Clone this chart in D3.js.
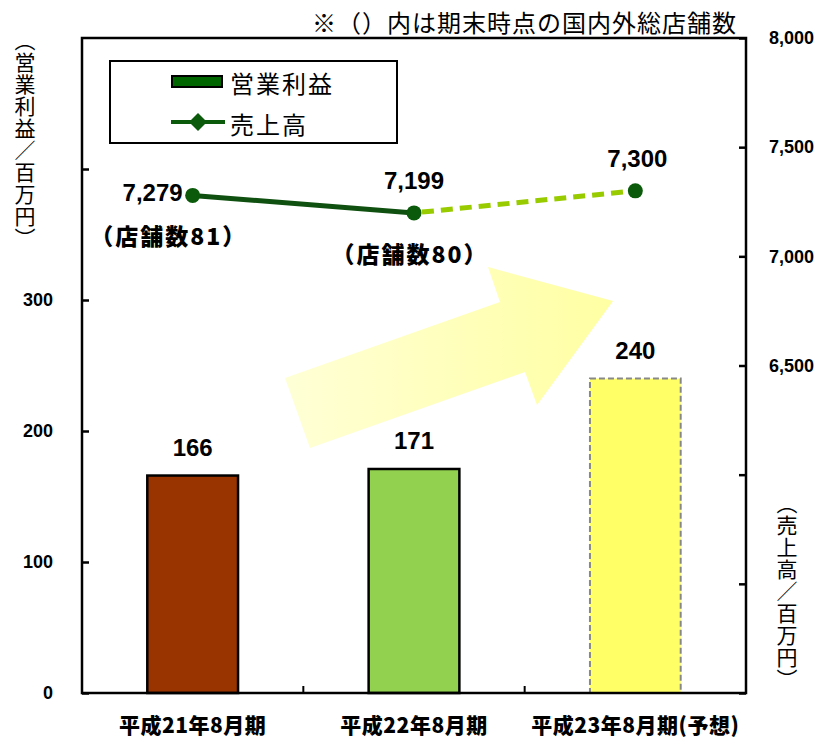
<!DOCTYPE html>
<html>
<head>
<meta charset="utf-8">
<script src="https://cdn.jsdelivr.net/npm/d3@7"></script>
<style>
  body { margin: 0; background: #fff; }
  svg { display: block; }
  .num { font-family: "Liberation Sans", Arial, sans-serif; font-weight: bold; }
  .jp { font-family: "Noto Sans CJK JP", sans-serif; }
</style>
</head>
<body>
<div id="chart"></div>
<script>
// data
var categories = ["平成21年8月期", "平成22年8月期", "平成23年8月期(予想)"];
var profit = [166, 171, 240];          // 営業利益 (left axis)
var sales = [7279, 7199, 7300];        // 売上高 (right axis)
var storeLabels = ["（店舗数81）", "（店舗数80）", null];
var leftTicks = [0, 100, 200, 300, 400];
var leftLabelTicks = [0, 100, 200, 300];
var rightTicks = [5000, 5500, 6000, 6500, 7000, 7500, 8000];
var rightLabelTicks = [6500, 7000, 7500, 8000];

var svgWidth = 820;
var svgHeight = 740;
var margin = { top: 38, right: 74, bottom: 47, left: 82 };
var width = svgWidth - margin.left - margin.right;
var height = svgHeight - margin.top - margin.bottom;

var svg = d3.select("#chart").append("svg")
  .attr("width", svgWidth)
  .attr("height", svgHeight);

var defs = svg.append("defs");
var grad = defs.append("linearGradient").attr("id", "arrowGrad")
  .attr("x1", "0%").attr("x2", "100%").attr("y1", "0%").attr("y2", "0%");
grad.append("stop").attr("offset", "0%").attr("stop-color", "#ffffd2");
grad.append("stop").attr("offset", "100%").attr("stop-color", "#ffff99");

var chartGroup = svg.append("g")
  .attr("transform", `translate(${margin.left}, ${margin.top})`);

// scales
var x = d3.scaleBand().domain(categories).range([0, width]).paddingInner(0).paddingOuter(0);
var barW = x.bandwidth() * 0.41;
var yLeft = d3.scaleLinear().domain([0, 500]).range([height, 0]);
var yRight = d3.scaleLinear().domain([5000, 8000]).range([height, 0]);

// big decorative arrow (plot-relative)
var arrowPts = [[203, 340], [418, 264], [406, 229], [531, 263], [455, 367], [443, 334], [228, 410]];
chartGroup.append("path")
  .attr("d", "M" + arrowPts.map(function (p) { return p.join(","); }).join("L") + "Z")
  .attr("fill", "url(#arrowGrad)")
  .attr("opacity", 0.9);

// bars
var barFill = ["#993300", "#92d050", "#ffff66"];
chartGroup.selectAll("rect.bar")
  .data(profit)
  .enter()
  .append("rect")
  .attr("class", "bar")
  .attr("x", function (d, i) { return x(categories[i]) + x.bandwidth() / 2 - barW / 2; })
  .attr("y", function (d) { return yLeft(d); })
  .attr("width", barW)
  .attr("height", function (d) { return height - yLeft(d); })
  .attr("fill", function (d, i) { return barFill[i]; })
  .attr("stroke", function (d, i) { return i === 2 ? "#888" : "#000"; })
  .attr("stroke-width", function (d, i) { return i === 2 ? 2 : 2.5; })
  .attr("stroke-dasharray", function (d, i) { return i === 2 ? "6,3" : null; });

// bar value labels
chartGroup.selectAll("text.barlab")
  .data(profit)
  .enter()
  .append("text")
  .attr("class", "num")
  .attr("x", function (d, i) { return x(categories[i]) + x.bandwidth() / 2; })
  .attr("y", function (d) { return yLeft(d) - 20; })
  .attr("text-anchor", "middle")
  .attr("font-size", 24)
  .text(function (d) { return d; });

// frame
chartGroup.append("rect")
  .attr("x", 0).attr("y", 0)
  .attr("width", width).attr("height", height)
  .attr("fill", "none").attr("stroke", "#000").attr("stroke-width", 2.5);

// left axis
var leftAxis = d3.axisLeft(yLeft).tickValues(leftTicks).tickSizeInner(-7).tickSizeOuter(0)
  .tickFormat(function (d) { return leftLabelTicks.indexOf(d) >= 0 ? d : ""; })
  .tickPadding(29);
var gl = chartGroup.append("g").call(leftAxis);
gl.select(".domain").remove();
gl.selectAll("line").attr("stroke", "#000").attr("stroke-width", 2.5);
gl.selectAll("text").attr("class", "num").attr("font-size", 18).attr("fill", "#000");

// right axis
var rightAxis = d3.axisRight(yRight).tickValues(rightTicks).tickSizeInner(-7).tickSizeOuter(0)
  .tickFormat(function (d) { return rightLabelTicks.indexOf(d) >= 0 ? d3.format(",")(d) : ""; })
  .tickPadding(23);
var gr = chartGroup.append("g").attr("transform", `translate(${width},0)`).call(rightAxis);
gr.select(".domain").remove();
gr.selectAll("line").attr("stroke", "#000").attr("stroke-width", 2.5);
gr.selectAll("text").attr("class", "num").attr("font-size", 18).attr("fill", "#000");

// category axis
var bottomAxis = d3.axisBottom(x).tickSize(0).tickPadding(25);
var gb = chartGroup.append("g").attr("transform", `translate(0,${height})`).call(bottomAxis);
gb.select(".domain").remove();
gb.selectAll("text").attr("class", "jp").attr("font-size", 21).attr("font-weight", "900")
  .attr("fill", "#000").attr("letter-spacing", 0.5);
chartGroup.selectAll("line.cattick")
  .data(categories.slice(1))
  .enter()
  .append("line")
  .attr("x1", function (d) { return x(d); }).attr("x2", function (d) { return x(d); })
  .attr("y1", height).attr("y2", height - 7)
  .attr("stroke", "#000").attr("stroke-width", 2);

// sales line: solid for actuals, dashed for forecast
var cx = function (i) { return x(categories[i]) + x.bandwidth() / 2; };
var line = d3.line().x(function (d) { return cx(d.i); }).y(function (d) { return yRight(d.v); });
var pts = sales.map(function (v, i) { return { i: i, v: v }; });
chartGroup.append("path")
  .datum(pts.slice(0, 2))
  .attr("d", line)
  .attr("fill", "none")
  .attr("stroke", "#0f4f0f")
  .attr("stroke-width", 5);
chartGroup.append("path")
  .datum(pts.slice(1, 3))
  .attr("d", line)
  .attr("fill", "none")
  .attr("stroke", "#99cc00")
  .attr("stroke-width", 5)
  .attr("stroke-dasharray", "12,7")
  .attr("stroke-dashoffset", -8);
chartGroup.selectAll("circle.pt")
  .data(pts)
  .enter()
  .append("circle")
  .attr("cx", function (d) { return cx(d.i); })
  .attr("cy", function (d) { return yRight(d.v); })
  .attr("r", 7.5)
  .attr("fill", "#0b5a0b");

// sales value labels
var salesLabelPos = [
  { dx: -10, dy: 6, anchor: "end" },
  { dx: 0, dy: -24, anchor: "middle" },
  { dx: 2, dy: -24, anchor: "middle" }
];
chartGroup.selectAll("text.saleslab")
  .data(pts)
  .enter()
  .append("text")
  .attr("class", "num")
  .attr("x", function (d) { return cx(d.i) + salesLabelPos[d.i].dx; })
  .attr("y", function (d) { return yRight(d.v) + salesLabelPos[d.i].dy; })
  .attr("text-anchor", function (d) { return salesLabelPos[d.i].anchor; })
  .attr("font-size", 24)
  .text(function (d) { return d3.format(",")(d.v); });

// store counts
chartGroup.selectAll("text.store")
  .data(pts.filter(function (d) { return storeLabels[d.i]; }))
  .enter()
  .append("text")
  .attr("class", "jp")
  .attr("x", function (d) { return cx(d.i) - (d.i === 0 ? 24 : 4); })
  .attr("y", function (d) { return yRight(d.v) + 50; })
  .attr("text-anchor", "middle")
  .attr("font-size", 23)
  .attr("font-weight", "900")
  .attr("letter-spacing", 2)
  .text(function (d) { return storeLabels[d.i]; });

// legend
var legend = svg.append("g").attr("transform", "translate(110,61)");
legend.append("rect").attr("width", 287).attr("height", 82)
  .attr("fill", "#fff").attr("stroke", "#000").attr("stroke-width", 2);
legend.append("rect").attr("x", 62).attr("y", 15).attr("width", 50).attr("height", 11)
  .attr("fill", "#006600").attr("stroke", "#000").attr("stroke-width", 2);
legend.append("text").attr("class", "jp").attr("x", 120).attr("y", 32)
  .attr("font-size", 24).attr("letter-spacing", 2).text("営業利益");
legend.append("line").attr("x1", 61).attr("x2", 115).attr("y1", 61).attr("y2", 61)
  .attr("stroke", "#0b5a0b").attr("stroke-width", 4);
legend.append("path").attr("d", "M88,52L97,61L88,70L79,61Z").attr("fill", "#0b5a0b");
legend.append("text").attr("class", "jp").attr("x", 120).attr("y", 73)
  .attr("font-size", 24).attr("letter-spacing", 2).text("売上高");

// note at top
svg.append("text").attr("class", "jp")
  .attr("x", 737).attr("y", 32)
  .attr("text-anchor", "end")
  .attr("font-size", 24)
  .attr("letter-spacing", 1)
  .text("※（）内は期末時点の国内外総店舗数");

// vertical axis titles
svg.append("text").attr("class", "jp")
  .attr("x", 25).attr("y", 30)
  .attr("font-size", 21)
  .attr("letter-spacing", 1)
  .style("writing-mode", "vertical-rl")
  .text("（営業利益／百万円）");
svg.append("text").attr("class", "jp")
  .attr("x", 787).attr("y", 493)
  .attr("font-size", 21)
  .attr("letter-spacing", 1)
  .style("writing-mode", "vertical-rl")
  .text("（売上高／百万円）");
</script>
</body>
</html>
